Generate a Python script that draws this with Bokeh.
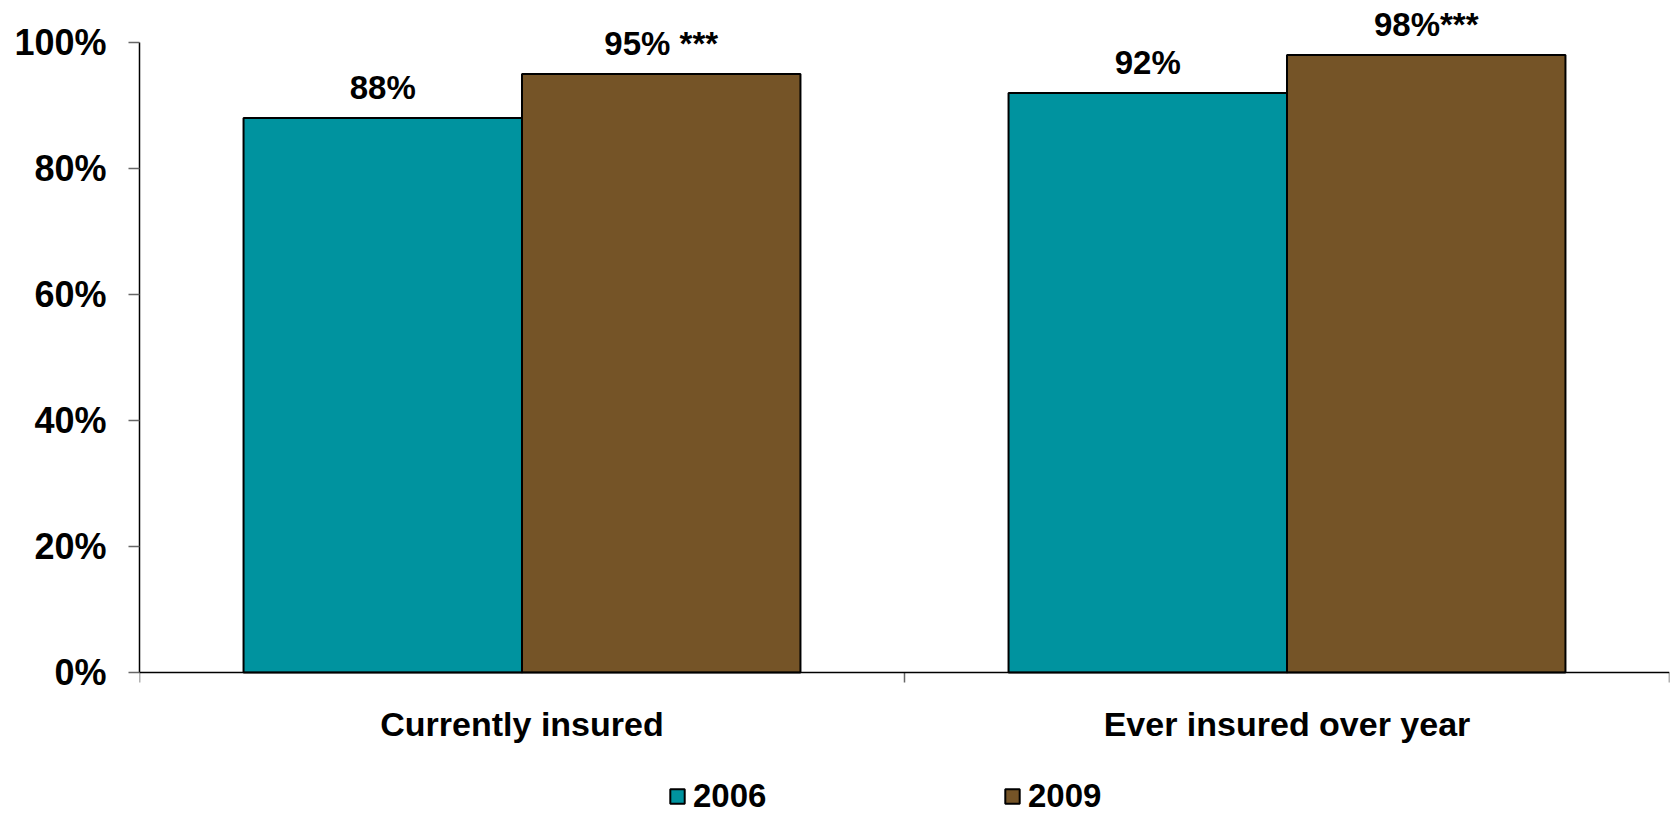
import math
from bokeh.plotting import figure
from bokeh.models import (ColumnDataSource, Range1d, FixedTicker, NumeralTickFormatter,
                          LabelSet, Legend, LegendItem, Span)
from bokeh.core.properties import value
from bokeh.embed import file_html
from bokeh.resources import INLINE

categories = ["Currently insured", "Ever insured over year"]
series_names = ["2006", "2009"]
values_2006 = [0.88, 0.92]
values_2009 = [0.95, 0.98]
labels_2006 = ["88%", "92%"]
labels_2009 = ["95% ***", "98%***"]
y_ticks = [0, 0.2, 0.4, 0.6, 0.8, 1.0]

colors = ["#00939F", "#755427"]
FONT = "Liberation Sans"
BAR_W = 0.364
PX_PER_UNIT = 630  # layout: 100% spans 630 px

p = figure(width=1673, height=815, output_backend="svg", toolbar_location=None,
           x_axis_location=None,
           x_range=Range1d(0, len(categories)),
           y_range=Range1d(-143 / PX_PER_UNIT, 1.0 + 42 / PX_PER_UNIT),
           min_border_left=139, min_border_right=4, min_border_top=0, min_border_bottom=0)
p.outline_line_color = None
p.xgrid.visible = False
p.ygrid.visible = False
p.background_fill_color = "white"
p.border_fill_color = "white"

centers = [i + 0.5 for i in range(len(categories))]
boundaries = list(range(len(categories) + 1))
src06 = ColumnDataSource(dict(x=[c - BAR_W / 2 for c in centers], top=values_2006, label=labels_2006))
src09 = ColumnDataSource(dict(x=[c + BAR_W / 2 for c in centers], top=values_2009, label=labels_2009))

r06 = p.vbar(x="x", top="top", bottom=0, width=BAR_W, source=src06,
             fill_color=colors[0], line_color="black", line_width=2)
r09 = p.vbar(x="x", top="top", bottom=0, width=BAR_W, source=src09,
             fill_color=colors[1], line_color="black", line_width=2)

for src in (src06, src09):
    ls = LabelSet(x="x", y="top", text="label", source=src, text_align="center",
                  text_baseline="alphabetic", y_offset=19, text_font=value(FONT),
                  text_font_style="bold", text_font_size="33px", text_color="black")
    p.add_layout(ls)

# x axis (baseline, boundary ticks, category labels)
p.add_layout(Span(location=0, dimension="width", line_color="black", line_width=1.5))
p.ray(x=boundaries, y=[0] * len(boundaries), length=10, length_units="screen",
      angle=-math.pi / 2, line_color="#666666", line_width=1.5)
cat_src = ColumnDataSource(dict(x=centers, y=[0] * len(centers), label=categories))
p.add_layout(LabelSet(x="x", y="y", text="label", source=cat_src, text_align="center",
                      text_baseline="alphabetic", y_offset=-63, text_font=value(FONT),
                      text_font_style="bold", text_font_size="34px", text_color="black"))

# y axis
p.yaxis.bounds = (y_ticks[0], y_ticks[-1])
p.yaxis.ticker = FixedTicker(ticks=y_ticks)
p.yaxis.formatter = NumeralTickFormatter(format="0%")
p.yaxis.major_label_text_font = FONT
p.yaxis.major_label_text_font_style = "bold"
p.yaxis.major_label_text_font_size = "36px"
p.yaxis.major_label_text_color = "black"
p.yaxis.major_tick_out = 11
p.yaxis.major_tick_in = 0
p.yaxis.major_tick_line_color = "#666666"
p.yaxis.major_tick_line_width = 1.5
p.yaxis.minor_tick_line_color = None
p.yaxis.axis_line_color = "black"
p.yaxis.axis_line_width = 1.5
p.yaxis.major_label_standoff = 22

legend = Legend(items=[LegendItem(label=series_names[0], renderers=[r06]),
                       LegendItem(label=series_names[1], renderers=[r09])],
                orientation="horizontal", location=(529, 0),
                glyph_width=18, glyph_height=18, label_standoff=7, spacing=0,
                label_width=310, padding=0, margin=0, border_line_color=None,
                background_fill_alpha=0, label_text_font=FONT,
                label_text_font_style="bold", label_text_font_size="33px",
                label_text_color="black", label_height=18)
p.add_layout(legend, "center")

open("out.html", "w").write(file_html(p, INLINE))
